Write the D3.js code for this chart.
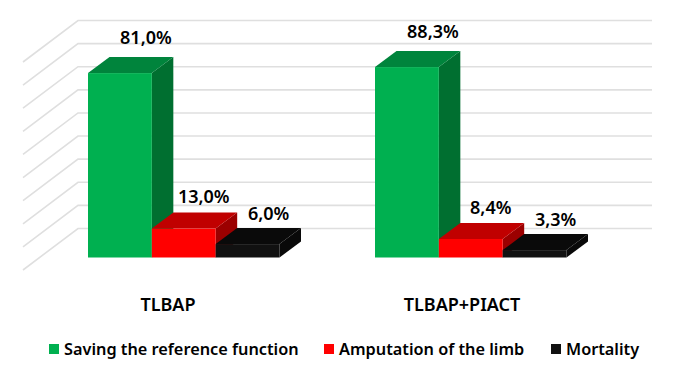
<!DOCTYPE html>
<html>
<head>
<meta charset="utf-8">
<script src="https://cdn.jsdelivr.net/npm/d3@7"></script>
<style>
  html, body { margin: 0; background: #fff; }
  text { font-family: "Noto Sans", sans-serif; font-weight: 600; fill: #000; }
</style>
</head>
<body>
<div id="chart"></div>
<script>
const width = 675, height = 378;

const categories = ['TLBAP', 'TLBAP+PIACT'];
const seriesNames = ['Saving the reference function', 'Amputation of the limb', 'Mortality'];
// printed labels
const labelsTlbap = ['81,0%', '13,0%', '6,0%'];
const labelsPiact = ['88,3%', '8,4%', '3,3%'];
// bar heights as measured against the gridlines, the drawn bars don't quite follow the labels
const heightsTlbap = [79.8, 12.5, 5.8];
const heightsPiact = [82.4, 8.0, 3.2];
const gridTicks = [0, 10, 20, 30, 40, 50, 60, 70, 80, 90];

const faces = [
  { front: '#00b050', top: '#00843c', side: '#006f30' },
  { front: '#ff0000', top: '#c00000', side: '#9b0000' },
  { front: '#111111', top: '#0a0a0a', side: '#090909' }
];
const labelShift = [[26, -29], [20, -25.5], [21, -24.5]];
const depthX = 21.5, depthY = -16;
const floorDrop = 29;

const svg = d3.select('#chart').append('svg')
  .attr('width', width)
  .attr('height', height);

const y = d3.scaleLinear().domain([0, 100]).range([257.5, 26.4]);

const x0 = d3.scaleBand().domain(categories)
  .range([88, 566.5])
  .paddingInner(0.3328)
  .paddingOuter(0);
const x1 = d3.scaleBand().domain(seriesNames)
  .range([0, x0.bandwidth()]);

// back wall + left wall
const grid = svg.append('g')
  .attr('fill', 'none')
  .attr('stroke', '#dfdfdf')
  .attr('stroke-width', 1.6);

grid.selectAll('path')
  .data(gridTicks)
  .enter().append('path')
    .attr('d', (d) => {
      const gy = y(d) - floorDrop;
      return `M23,${gy + 41.5}L78,${gy}H652`;
    });

const rows = [
  { category: categories[0], heights: heightsTlbap, labels: labelsTlbap },
  { category: categories[1], heights: heightsPiact, labels: labelsPiact }
];

const pts = (arr) => arr.map((p) => p.join(',')).join(' ');

rows.forEach((row) => {
  const g = svg.append('g');
  const bars = seriesNames.map((name, i) => ({
    name, i, value: row.heights[i], label: row.labels[i],
    x: x0(row.category) + x1(name), w: x1.bandwidth()
  }));

  const bar = g.selectAll('g.bar')
    .data(bars)
    .enter().append('g')
      .attr('class', 'bar');

  bar.append('polygon')
    .attr('fill', (d) => faces[d.i].side)
    .attr('points', (d) => pts([
      [d.x + d.w, y(d.value)],
      [d.x + d.w + depthX, y(d.value) + depthY],
      [d.x + d.w + depthX, y(0) + depthY],
      [d.x + d.w, y(0)]
    ]));

  bar.append('polygon')
    .attr('fill', (d) => faces[d.i].top)
    .attr('points', (d) => pts([
      [d.x, y(d.value)],
      [d.x + depthX, y(d.value) + depthY],
      [d.x + d.w + depthX, y(d.value) + depthY],
      [d.x + d.w, y(d.value)]
    ]));

  bar.append('rect')
    .attr('fill', (d) => faces[d.i].front)
    .attr('x', (d) => d.x)
    .attr('y', (d) => y(d.value))
    .attr('width', (d) => d.w)
    .attr('height', (d) => y(0) - y(d.value));

  bar.append('text')
    .attr('x', (d) => d.x + d.w / 2 + labelShift[d.i][0])
    .attr('y', (d) => y(d.value) + labelShift[d.i][1])
    .attr('text-anchor', 'middle')
    .attr('font-size', 18)
    .text((d) => d.label);
});

// category names are not centred under the bars in the original
const categoryX = d3.scalePoint().domain(categories).range([168, 462]);
svg.append('g').selectAll('text')
  .data(categories)
  .enter().append('text')
    .attr('x', (d) => categoryX(d))
    .attr('y', 311)
    .attr('text-anchor', 'middle')
    .attr('font-size', 18)
    .text((d) => d);

const legendX = [49, 324, 551];
const legend = svg.append('g').selectAll('g')
  .data(seriesNames)
  .enter().append('g')
    .attr('transform', (d, i) => `translate(${legendX[i]},344)`);

legend.append('rect')
  .attr('width', 10)
  .attr('height', 10)
  .attr('fill', (d, i) => faces[i].front);

legend.append('text')
  .attr('x', 15)
  .attr('y', 11)
  .attr('font-size', 16.3)
  .text((d) => d);
</script>
</body>
</html>
